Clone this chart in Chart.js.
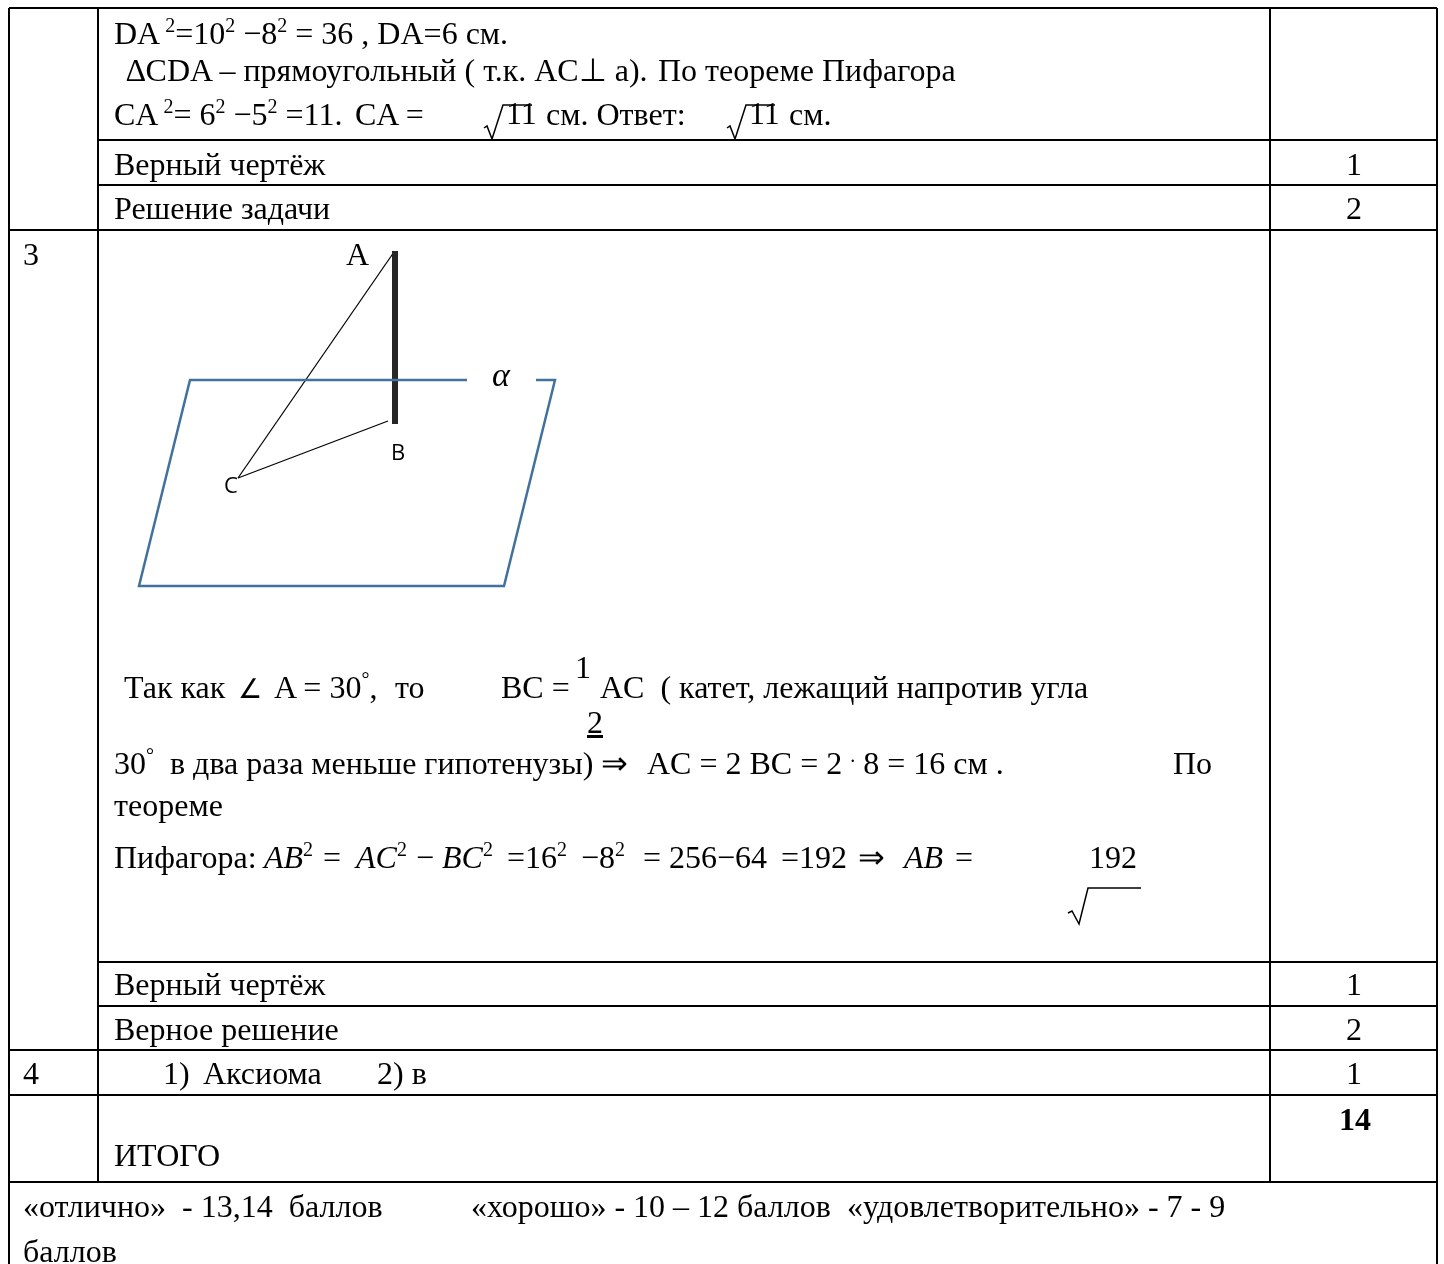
<!DOCTYPE html>
<html lang="ru">
<head>
<meta charset="utf-8">
<title>Ответы</title>
<script src="https://cdn.jsdelivr.net/npm/chart.js@4"></script>
<style>
  html, body { margin: 0; background: #fff; }
  #page { position: relative; width: 1444px; height: 1264px; overflow: hidden; }
  #figure { position: absolute; left: 0; top: 0; }
  #labels span { position: absolute; white-space: pre; color: #000;
    font: 32px/0 "Liberation Serif", serif; }
  #labels sup { font-size: 20px; line-height: 0; vertical-align: baseline; position: relative; top: -12px; }
  #labels small { font-size: 27px; }
  #labels .sans { font-family: "Open Sans", sans-serif; font-size: 22px; }
  #labels .it { font-style: italic; font-size: 34px; }
</style>
</head>
<body>
<div id="page">
  <canvas id="figure" width="1444" height="1264"></canvas>
  <div id="labels"></div>
</div>
<script>
// table rules, in page units
const tableTop = [[9, 1437, 8]];
const rowRulesFull = [[9, 1437, 230], [9, 1437, 1050], [9, 1437, 1095], [9, 1437, 1182]];
const rowRulesInner = [[98, 1437, 140], [98, 1437, 185], [98, 1437, 962], [98, 1437, 1006]];
const colRules = [[9, 8, 1264], [98, 8, 1182], [1270, 8, 1182], [1437, 8, 1264]];

// drawing: plane, segment AB, AC, CB
const planeLeft = [[467, 380], [190, 380], [139, 586], [504, 586], [555, 380], [536, 380]];
const segmentAB = [[395, 251], [395, 424]];
const segmentAC = [[394, 252], [238, 478]];
const segmentCB = [[238, 478], [388, 421]];

// root signs
const rootOne = [[484, 128], [487, 126], [492, 139], [503, 105], [532, 105]];
const rootTwo = [[727, 128], [730, 126], [735, 139], [746, 105], [775, 105]];
const rootThree = [[1068, 913], [1072, 911], [1079, 924], [1088, 888], [1141, 888]];

// text: x, baseline, html
const textLines = [
  [114, 43, 'DA<sup> 2</sup>=10<sup>2</sup> &minus;8<sup>2</sup> = 36 , DA=6 см.'],
  [126, 80, '∆CDA – прямоугольный ( т.к. AC⊥ a).'],
  [658, 80, 'По теореме Пифагора'],
  [114, 124, 'CA<sup> 2</sup>= 6<sup>2</sup> &minus;5<sup>2</sup> =11.'],
  [355, 124, 'CA ='],
  [506, 123, '11'],
  [546, 124, 'см. Ответ:'],
  [749, 123, '11'],
  [789, 124, 'см.'],
  [114, 174, 'Верный чертёж'],
  [114, 218, 'Решение задачи'],
  [1346, 174, '1'],
  [1346, 218, '2'],
  [23, 264, '3'],
  [346, 264, 'A'],
  [124, 697, 'Так как'],
  [238, 697, '<small>∠</small>'],
  [274, 697, 'A = 30<sup>°</sup>,'],
  [395, 697, 'то'],
  [501, 697, 'BC ='],
  [575, 677, '1'],
  [600, 697, 'AC  ( катет, лежащий напротив угла'],
  [587, 732, '<u>2</u>'],
  [114, 773, '30<sup>°</sup>  в два раза меньше гипотенузы)'],
  [601, 773, '⇒'],
  [647, 773, 'AC = 2 BC = 2 <sup>.</sup> 8 = 16 см .'],
  [1173, 773, 'По'],
  [114, 815, 'теореме'],
  [114, 867, 'Пифагора:'],
  [264, 867, '<i>AB</i><sup>2</sup>'],
  [323, 867, '='],
  [356, 867, '<i>AC</i><sup>2</sup>'],
  [416, 867, '&minus;'],
  [442, 867, '<i>BC</i><sup>2</sup>'],
  [507, 867, '=16<sup>2</sup>'],
  [581, 867, '&minus;8<sup>2</sup>'],
  [643, 867, '= 256'],
  [717, 867, '&minus;64'],
  [781, 867, '=192'],
  [858, 867, '⇒'],
  [904, 867, '<i>AB</i>'],
  [955, 867, '='],
  [1089, 867, '192'],
  [114, 994, 'Верный чертёж'],
  [114, 1039, 'Верное решение'],
  [1346, 994, '1'],
  [1346, 1039, '2'],
  [23, 1083, '4'],
  [163, 1083, '1)'],
  [203, 1083, 'Аксиома'],
  [377, 1083, '2) в'],
  [1346, 1083, '1'],
  [1339, 1129, '<b>14</b>'],
  [114, 1165, 'ИТОГО'],
  [23, 1216, '«отлично»  - 13,14  баллов'],
  [471, 1216, '«хорошо» - 10 – 12 баллов  «удовлетворительно» - 7 - 9'],
  [23, 1261, 'баллов']
];

const sansLabels = [[391, 461, 'B'], [224, 494, 'C']];
const alphaLabel = [492, 385, 'α'];

const toPoints = pts => pts.map(p => ({ x: p[0], y: p[1] }));
const hRule = r => [{ x: r[0], y: r[2] }, { x: r[1], y: r[2] }];
const vRule = r => [{ x: r[0], y: r[1] }, { x: r[0], y: r[2] }];
const ruleColor = '#000000';

function lineSet(data, color, width) {
  return { data, borderColor: color, borderWidth: width, pointRadius: 0, showLine: true, fill: false, tension: 0 };
}

const datasets = [];
tableTop.concat(rowRulesFull, rowRulesInner).forEach(r => datasets.push(lineSet(hRule(r), ruleColor, 2)));
colRules.forEach(r => datasets.push(lineSet(vRule(r), ruleColor, 2)));
datasets.push(lineSet(toPoints(planeLeft), '#41719c', 2.5));
datasets.push(lineSet(toPoints(segmentAB), '#262626', 6));
datasets.push(lineSet(toPoints(segmentAC), '#000000', 1.25));
datasets.push(lineSet(toPoints(segmentCB), '#000000', 1.25));
[rootOne, rootTwo, rootThree].forEach(r => datasets.push(lineSet(toPoints(r), '#000000', 1.5)));

new Chart(document.getElementById('figure'), {
  type: 'scatter',
  data: { datasets },
  options: {
    responsive: false,
    animation: false,
    layout: { padding: 0 },
    plugins: { legend: { display: false }, tooltip: { enabled: false }, title: { display: false } },
    scales: {
      x: { type: 'linear', min: 0, max: 1444, display: false },
      y: { type: 'linear', min: 0, max: 1264, reverse: true, display: false }
    }
  }
});

const labels = document.getElementById('labels');
function addLabel(x, y, html, cls) {
  const s = document.createElement('span');
  s.style.left = x + 'px';
  s.style.top = y + 'px';
  if (cls) s.className = cls;
  s.innerHTML = html;
  labels.appendChild(s);
}
textLines.forEach(t => addLabel(t[0], t[1] - 10, t[2]));
sansLabels.forEach(t => addLabel(t[0], t[1] - 10, t[2], 'sans'));
addLabel(alphaLabel[0], alphaLabel[1] - 10, alphaLabel[2], 'it');
</script>
</body>
</html>
